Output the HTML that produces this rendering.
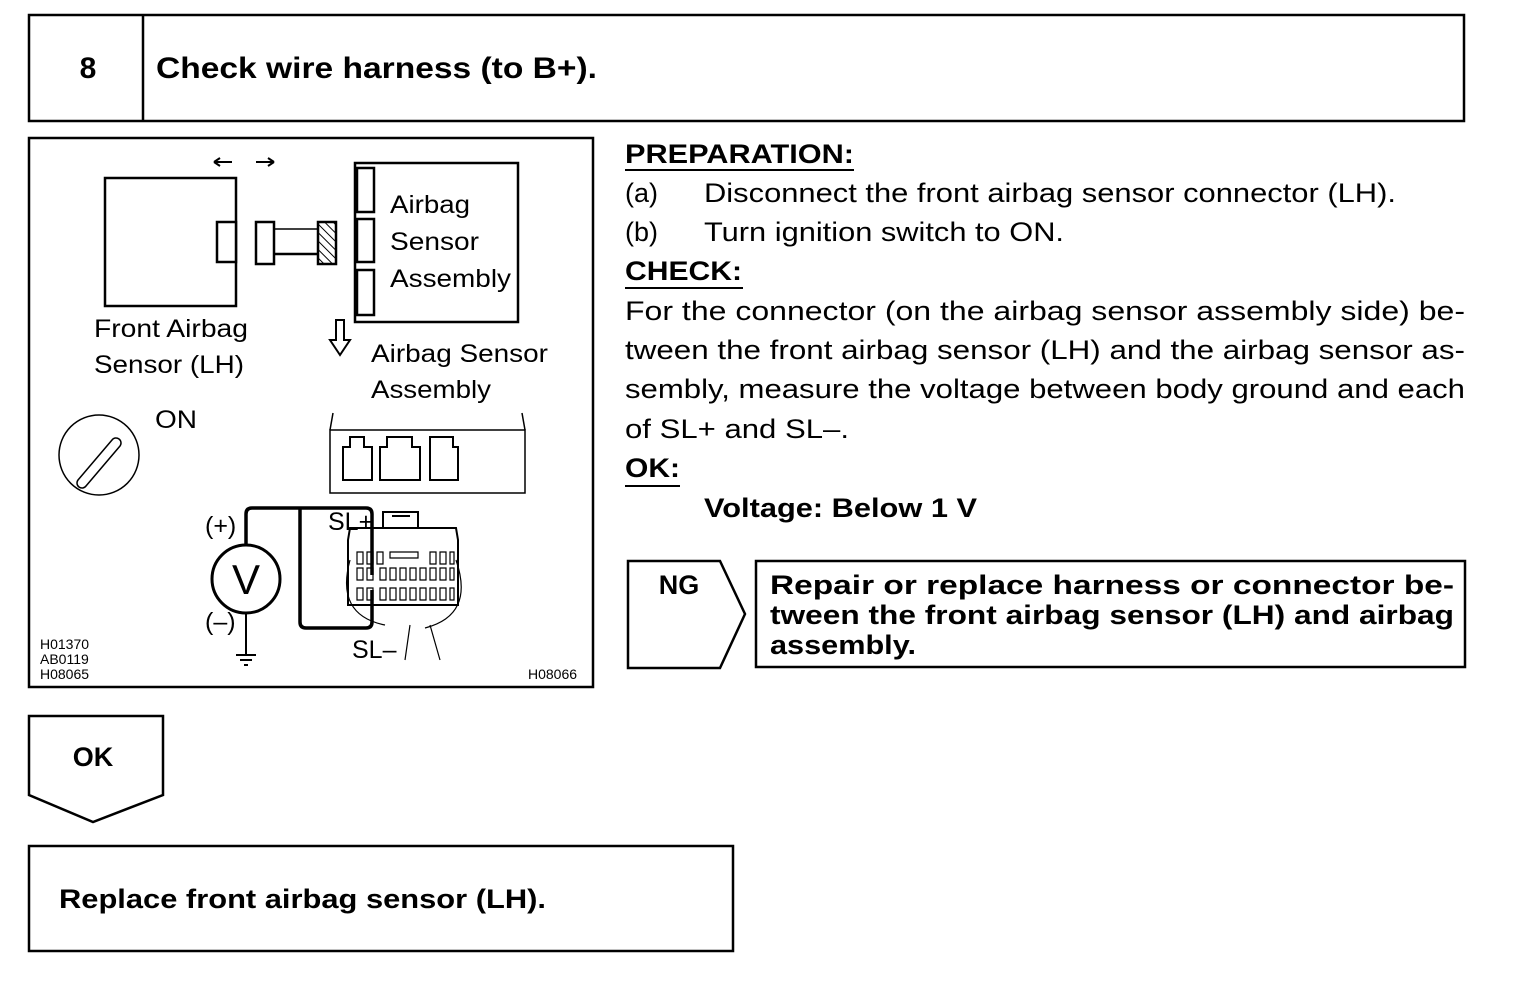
<!DOCTYPE html>
<html><head><meta charset="utf-8"><style>
html,body{margin:0;padding:0;background:#fff;}
svg{display:block;}
text{font-family:"Liberation Sans",Arial,sans-serif;fill:#000;}
.b{font-weight:bold;}
</style></head><body>
<svg width="1520" height="986" viewBox="0 0 1520 986" xmlns="http://www.w3.org/2000/svg">
<defs>
<pattern id="h" width="6" height="6" patternUnits="userSpaceOnUse" patternTransform="rotate(-45)">
<line x1="0" y1="0" x2="0" y2="6" stroke="#000" stroke-width="2"/></pattern>
</defs>
<g fill="none" stroke="#000" stroke-width="2.5">
<rect x="29" y="15" width="1435" height="106"/>
<line x1="143" y1="15" x2="143" y2="121"/>
<rect x="29" y="138" width="564" height="549"/>
<path d="M628 561 H720 L745 614 L720 668 H628 Z"/>
<rect x="756" y="561" width="709" height="106"/>
<path d="M29 716 H163 V795 L93 822 L29 795 Z"/>
<rect x="29" y="846" width="704" height="105"/>
</g>
<text x="88" y="78" font-size="30" class="b" text-anchor="middle">8</text>
<text x="156" y="78" font-size="30" class="b" textLength="441" lengthAdjust="spacingAndGlyphs">Check wire harness (to B+).</text>

<g font-size="27">
<text x="625" y="163" class="b" textLength="229" lengthAdjust="spacingAndGlyphs">PREPARATION:</text>
<line x1="625" y1="170" x2="854" y2="170" stroke="#000" stroke-width="2"/>
<text x="625" y="202">(a)</text><text x="704" y="202" textLength="692" lengthAdjust="spacingAndGlyphs">Disconnect the front airbag sensor connector (LH).</text>
<text x="625" y="241">(b)</text><text x="704" y="241" textLength="360" lengthAdjust="spacingAndGlyphs">Turn ignition switch to ON.</text>
<text x="625" y="280" class="b" textLength="117" lengthAdjust="spacingAndGlyphs">CHECK:</text>
<line x1="625" y1="288" x2="743" y2="288" stroke="#000" stroke-width="2"/>
<text x="625" y="320" textLength="840" lengthAdjust="spacingAndGlyphs">For the connector (on the airbag sensor assembly side) be-</text>
<text x="625" y="359" textLength="840" lengthAdjust="spacingAndGlyphs">tween the front airbag sensor (LH) and the airbag sensor as-</text>
<text x="625" y="398" textLength="840" lengthAdjust="spacingAndGlyphs">sembly, measure the voltage between body ground and each</text>
<text x="625" y="438" textLength="224" lengthAdjust="spacingAndGlyphs">of SL+ and SL–.</text>
<text x="625" y="477" class="b" textLength="55" lengthAdjust="spacingAndGlyphs">OK:</text>
<line x1="625" y1="486" x2="680" y2="486" stroke="#000" stroke-width="2"/>
<text x="704" y="517" class="b" textLength="273" lengthAdjust="spacingAndGlyphs">Voltage: Below 1 V</text>
<text x="679" y="594" class="b" text-anchor="middle">NG</text>
<text x="770" y="594" class="b" textLength="684" lengthAdjust="spacingAndGlyphs">Repair or replace harness or connector be-</text>
<text x="770" y="624" class="b" textLength="684" lengthAdjust="spacingAndGlyphs">tween the front airbag sensor (LH) and airbag</text>
<text x="770" y="654" class="b" textLength="146" lengthAdjust="spacingAndGlyphs">assembly.</text>
<text x="93" y="766" class="b" text-anchor="middle">OK</text>
<text x="59" y="908" class="b" textLength="487" lengthAdjust="spacingAndGlyphs">Replace front airbag sensor (LH).</text>
</g>

<g fill="none" stroke="#000" stroke-width="2.5">
<rect x="105" y="178" width="131" height="128"/>
<rect x="217" y="222" width="19" height="40" fill="#fff"/>
<rect x="256" y="222" width="18" height="42"/>
<line x1="274" y1="229" x2="318" y2="229" stroke-width="1.5"/>
<line x1="274" y1="254" x2="318" y2="254"/>
<rect x="318" y="222" width="18" height="42" fill="url(#h)"/>
<rect x="355" y="163" width="163" height="159"/>
<rect x="357" y="168" width="17" height="44"/>
<rect x="357" y="219" width="17" height="43"/>
<rect x="357" y="270" width="17" height="45"/>
<path d="M336 320 V340 H330 L340 355 L350 340 H344 V320 Z" stroke-width="2"/>
<path d="M214 162 H232 M214 162 l6 -4 M214 162 l6 4 M256 162 H274 M274 162 l-6 -4 M274 162 l-6 4" stroke-width="2"/>
<circle cx="99" cy="455" r="40" stroke-width="1.5"/>
<path d="M78 480 L112 440 A5 5 0 0 1 120 446 L86 486 A5 5 0 0 1 78 480 Z" stroke-width="1.5"/>
<rect x="330" y="430" width="195" height="63" stroke-width="1.5"/>
<path d="M330 430 L333 413 M525 430 L522 413" stroke-width="1.5"/>
<path d="M343 480 V447 H350 V437 H364 V447 H372 V480 Z M380 480 V447 H387 V437 H412 V447 H420 V480 Z M430 480 V437 H453 V447 H458 V480 Z" stroke-width="2"/>
<circle cx="246" cy="579" r="34" stroke-width="3"/>
<path d="M246 545 V514 Q246 508 252 508 H366 Q372 508 372 514 V575" stroke-width="3.5"/>
<path d="M300 508 V622 Q300 628 306 628 H366 Q372 628 372 622 V590" stroke-width="3.5"/>
<path d="M246 613 V655 M236 655 H256 M240 660 H252 M244 665 H248" stroke-width="2"/>
<path d="M348 540 L350 528 H456 L458 540 V605 H348 Z" stroke-width="2"/>
<path d="M383 528 V512 H418 V528 M392 516 H410" stroke-width="2"/>
<path d="M350 560 Q335 615 385 625 M456 560 Q475 615 425 628 M410 625 L405 660 M430 625 L440 660" stroke-width="1.2"/>
</g>
<g fill="none" stroke="#000" stroke-width="1.2">
<path d="M357 552 h6 v12 h-6z M367 552 h6 v12 h-6z M377 552 h6 v12 h-6z M390 552 h28 v6 h-28z M430 552 h6 v12 h-6z M440 552 h6 v12 h-6z M450 552 h4 v12 h-4z"/>
<path d="M357 568 h6 v12 h-6z M367 568 h6 v12 h-6z M380 568 h6 v12 h-6z M390 568 h6 v12 h-6z M400 568 h6 v12 h-6z M410 568 h6 v12 h-6z M420 568 h6 v12 h-6z M430 568 h6 v12 h-6z M440 568 h6 v12 h-6z M450 568 h4 v12 h-4z"/>
<path d="M357 588 h6 v12 h-6z M367 588 h6 v12 h-6z M380 588 h6 v12 h-6z M390 588 h6 v12 h-6z M400 588 h6 v12 h-6z M410 588 h6 v12 h-6z M420 588 h6 v12 h-6z M430 588 h6 v12 h-6z M440 588 h6 v12 h-6z M450 588 h4 v12 h-4z"/>
</g>
<g font-size="25">
<text x="390" y="213" textLength="80" lengthAdjust="spacingAndGlyphs">Airbag</text>
<text x="390" y="250" textLength="89" lengthAdjust="spacingAndGlyphs">Sensor</text>
<text x="390" y="287" textLength="121" lengthAdjust="spacingAndGlyphs">Assembly</text>
<text x="94" y="337" textLength="154" lengthAdjust="spacingAndGlyphs">Front Airbag</text>
<text x="94" y="373" textLength="150" lengthAdjust="spacingAndGlyphs">Sensor (LH)</text>
<text x="371" y="362" textLength="177" lengthAdjust="spacingAndGlyphs">Airbag Sensor</text>
<text x="371" y="398" textLength="120" lengthAdjust="spacingAndGlyphs">Assembly</text>
<text x="155" y="428" textLength="42" lengthAdjust="spacingAndGlyphs">ON</text>
<text x="205" y="534">(+)</text>
<text x="205" y="630">(–)</text>
<text x="328" y="530">SL+</text>
<text x="352" y="658">SL–</text>
</g>
<text x="246" y="594" font-size="42" text-anchor="middle">V</text>
<g font-size="14">
<text x="40" y="649">H01370</text>
<text x="40" y="664">AB0119</text>
<text x="40" y="679">H08065</text>
<text x="528" y="679">H08066</text>
</g>
</svg>
</body></html>
